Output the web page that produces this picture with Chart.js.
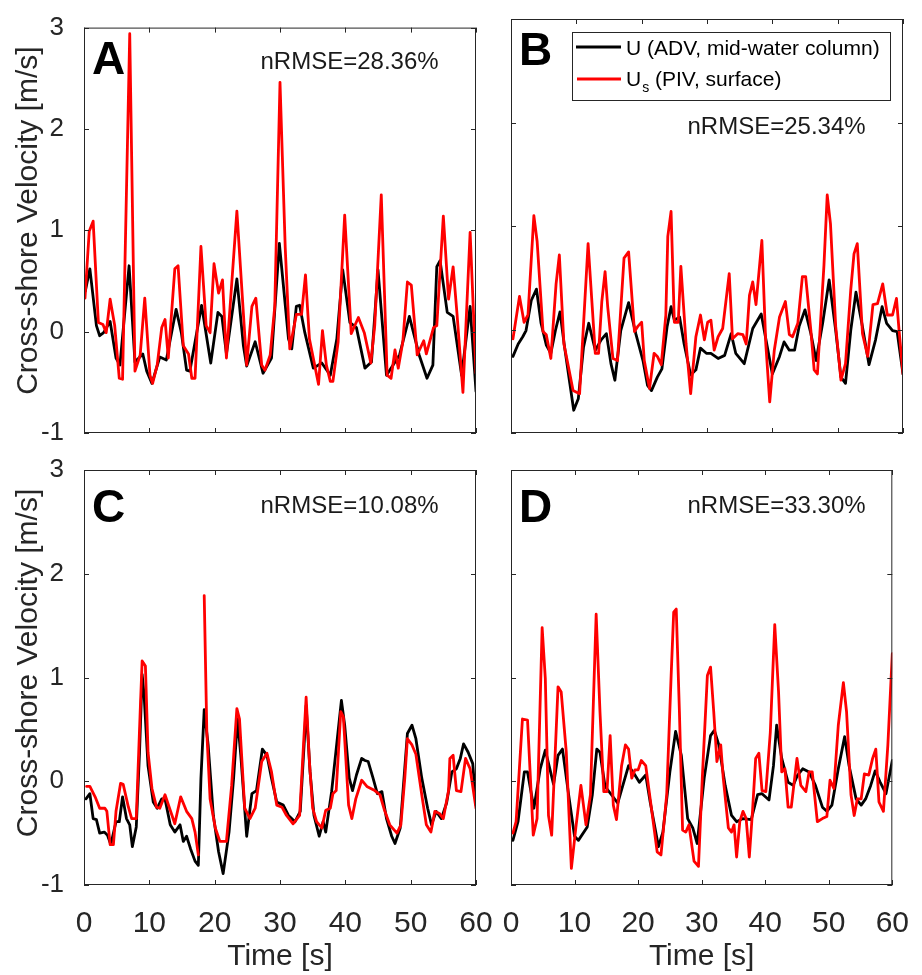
<!DOCTYPE html>
<html lang="en">
<head>
    <meta charset="UTF-8">
    <title>Cross-shore Velocity</title>
    <script src="https://cdn.jsdelivr.net/npm/chart.js"></script>
    <style>
        html, body { margin: 0; padding: 0; background: #fff; }
        #wrap { position: relative; width: 922px; height: 975px; }
        #wrap canvas { position: absolute; left: 0; top: 0; }
    </style>
</head>
<body>
    <div id="wrap">
        <canvas id="panelA" width="922" height="975"></canvas>
        <canvas id="panelB" width="922" height="975"></canvas>
        <canvas id="panelC" width="922" height="975"></canvas>
        <canvas id="panelD" width="922" height="975"></canvas>
    </div>

    <script>
        // tick values
        const xTicks = [0, 10, 20, 30, 40, 50, 60];
        const yTicks = [-1, 0, 1, 2, 3];

        // Panel A
        const tA_U = [0.2, 0.9, 1.9, 2.4, 3.0, 4.0, 4.9, 5.5, 6.9, 7.8, 9.0, 9.6, 10.4, 11.6, 12.6, 14.1, 14.9, 15.7, 16.2, 18.0, 19.4, 20.5, 21.1, 21.8, 23.4, 24.4, 24.9, 26.2, 27.4, 28.7, 29.9, 31.3, 31.8, 32.5, 33.0, 33.8, 35.1, 36.4, 37.7, 38.7, 39.6, 40.7, 41.7, 43.0, 44.0, 45.0, 46.3, 48.3, 49.8, 51.3, 52.5, 53.4, 54.0, 54.5, 55.6, 56.5, 57.8, 59.1, 60.0];
        const uA = [0.40, 0.62, 0.06, -0.04, -0.01, 0.10, -0.26, -0.33, 0.65, -0.30, -0.22, -0.39, -0.51, -0.25, -0.28, 0.22, -0.01, -0.38, -0.39, 0.26, -0.31, 0.19, 0.15, -0.22, 0.52, -0.14, -0.34, -0.10, -0.41, -0.26, 0.87, -0.07, -0.17, 0.25, 0.26, -0.01, -0.36, -0.31, -0.43, -0.07, 0.61, 0.09, 0.04, -0.36, -0.30, 0.61, -0.43, -0.23, 0.15, -0.23, -0.46, -0.33, 0.64, 0.70, 0.19, 0.15, -0.43, 0.25, -0.59];
        const tA_Us = [0.15, 0.8, 1.4, 2.2, 2.9, 3.4, 4.0, 4.7, 5.4, 5.9, 7.0, 7.3, 7.8, 8.6, 9.3, 10.1, 10.5, 11.2, 11.9, 12.4, 12.9, 13.9, 14.4, 15.2, 16.0, 16.5, 17.0, 17.9, 18.7, 19.3, 19.9, 20.6, 21.2, 21.8, 23.4, 24.9, 25.7, 26.3, 27.2, 27.7, 28.5, 29.2, 30.0, 30.8, 31.5, 32.5, 33.3, 33.9, 34.5, 35.9, 36.5, 37.1, 37.7, 38.1, 38.9, 39.9, 40.9, 42.0, 42.9, 43.9, 44.5, 45.5, 46.4, 47.0, 47.6, 48.1, 48.8, 49.5, 50.1, 51.0, 52.0, 52.4, 53.5, 54.0, 55.0, 55.8, 56.5, 57.1, 58.0, 59.1, 60.0];
        const usA = [0.33, 0.99, 1.09, 0.09, 0.07, -0.01, 0.32, 0.06, -0.46, -0.47, 2.94, 1.70, -0.39, -0.23, 0.33, -0.43, -0.51, -0.33, 0.04, 0.12, -0.26, 0.62, 0.65, -0.14, -0.22, -0.46, -0.46, 0.84, 0.06, -0.01, 0.67, 0.38, 0.51, -0.26, 1.19, -0.33, 0.25, 0.33, -0.33, -0.38, -0.23, 0.25, 2.46, 0.83, -0.17, 0.17, 0.17, 0.56, -0.07, -0.52, 0.01, -0.33, -0.49, -0.49, -0.10, 1.15, -0.02, 0.14, -0.01, -0.31, 0.06, 1.35, -0.43, -0.46, -0.18, -0.36, -0.10, 0.49, 0.46, -0.23, -0.09, -0.22, 0.04, 0.06, 1.14, 0.32, 0.64, 0.17, -0.60, 0.98, -0.41];

        // Panel B
        const tB_U = [0.3, 1.1, 1.8, 2.3, 3.1, 3.9, 4.6, 5.4, 6.1, 6.8, 7.5, 8.2, 9.0, 9.6, 10.3, 11.1, 11.9, 12.9, 13.8, 14.6, 15.3, 15.9, 16.8, 18.0, 19.1, 20.2, 20.9, 21.5, 22.4, 23.1, 23.9, 24.5, 25.0, 25.8, 26.5, 27.5, 28.3, 29.0, 29.9, 30.6, 31.7, 32.7, 33.7, 34.4, 35.7, 37.0, 38.3, 39.0, 40.0, 41.1, 41.8, 42.6, 43.4, 44.1, 45.0, 45.9, 46.7, 47.7, 48.7, 49.7, 50.5, 51.2, 52.0, 52.8, 53.7, 54.8, 55.8, 56.8, 57.5, 58.4, 59.1, 60.0];
        const uB = [-0.26, -0.14, -0.07, -0.01, 0.28, 0.39, 0.06, -0.15, -0.23, -0.01, 0.17, -0.17, -0.52, -0.78, -0.67, -0.17, 0.06, -0.20, -0.10, -0.04, -0.33, -0.49, -0.01, 0.26, -0.04, -0.30, -0.54, -0.59, -0.46, -0.38, 0.03, 0.22, 0.09, 0.12, -0.14, -0.44, -0.39, -0.18, -0.23, -0.23, -0.28, -0.25, -0.04, -0.23, -0.33, 0.01, 0.15, -0.09, -0.43, -0.26, -0.12, -0.20, -0.20, 0.03, 0.19, -0.04, -0.30, 0.06, 0.48, -0.01, -0.46, -0.52, -0.01, 0.36, 0.06, -0.34, -0.10, 0.22, 0.06, -0.01, -0.02, -0.43];
        const tB_Us = [0.3, 1.3, 2.0, 2.6, 3.5, 4.0, 4.9, 5.4, 6.1, 6.9, 7.4, 8.1, 8.7, 9.5, 10.5, 11.8, 12.9, 13.4, 13.9, 14.4, 14.8, 15.6, 16.3, 17.3, 18.0, 18.9, 19.4, 20.0, 20.4, 21.2, 21.9, 22.4, 23.0, 23.7, 24.0, 24.5, 25.0, 25.6, 26.0, 26.8, 27.5, 28.3, 29.0, 29.6, 30.1, 30.6, 31.1, 31.7, 32.4, 33.4, 33.9, 34.7, 35.5, 36.0, 36.5, 37.0, 37.5, 38.4, 39.0, 39.6, 40.3, 41.1, 42.0, 42.6, 43.1, 43.9, 44.6, 45.1, 45.9, 46.4, 46.9, 47.9, 48.4, 48.9, 49.7, 50.5, 51.2, 52.0, 52.5, 53.0, 53.8, 54.6, 55.4, 56.1, 56.9, 57.6, 58.4, 59.0, 59.4, 60.0];
        const usB = [-0.09, 0.32, 0.07, 0.14, 1.10, 0.85, -0.02, -0.05, -0.28, 0.44, 0.72, -0.14, -0.33, -0.59, -0.62, 0.83, -0.23, -0.23, 0.27, 0.56, 0.22, -0.28, -0.30, 0.69, 0.75, -0.02, 0.03, 0.07, -0.30, -0.57, -0.23, -0.26, -0.34, 0.14, 0.90, 1.14, 0.07, 0.07, 0.61, -0.14, -0.62, -0.07, 0.14, -0.10, 0.07, 0.09, -0.20, -0.07, 0.01, 0.54, -0.09, -0.04, -0.05, -0.14, 0.33, 0.46, 0.24, 0.86, -0.14, -0.70, -0.20, 0.12, 0.27, -0.05, -0.07, 0.06, 0.51, 0.51, -0.01, -0.39, -0.43, 0.62, 1.30, 1.02, 0.03, -0.49, -0.33, 0.38, 0.73, 0.83, -0.04, -0.26, 0.24, 0.25, 0.44, 0.14, 0.14, 0.30, -0.01, -0.43];

        // Panel C (null = gap in the PIV record)
        const tC_U = [0.3, 0.9, 1.4, 1.9, 2.4, 3.1, 3.6, 4.1, 4.9, 5.4, 5.9, 6.5, 7.0, 7.4, 8.0, 8.5, 8.9, 9.2, 9.8, 10.6, 11.2, 11.9, 12.4, 13.2, 13.9, 14.7, 15.2, 15.7, 16.3, 17.0, 17.5, 17.9, 18.4, 19.0, 19.8, 20.6, 21.3, 22.2, 22.9, 23.5, 24.0, 24.9, 25.7, 26.4, 27.3, 28.0, 28.7, 29.5, 30.5, 31.3, 32.3, 33.1, 33.8, 34.0, 34.6, 35.2, 36.0, 36.6, 37.0, 37.9, 39.4, 39.9, 40.6, 41.1, 41.7, 42.5, 43.0, 43.5, 44.2, 44.9, 45.6, 46.3, 47.1, 47.6, 48.4, 49.5, 50.2, 50.8, 51.7, 52.6, 53.2, 53.9, 54.7, 55.5, 56.3, 57.0, 57.6, 58.1, 58.8, 59.5, 60.0];
        const uC = [-0.17, -0.12, -0.36, -0.37, -0.50, -0.49, -0.52, -0.61, -0.39, -0.39, -0.15, -0.36, -0.42, -0.63, -0.44, 0.28, 1.03, 0.83, 0.15, -0.20, -0.26, -0.17, -0.17, -0.42, -0.49, -0.42, -0.58, -0.53, -0.65, -0.77, -0.81, 0.03, 0.69, 0.35, -0.33, -0.68, -0.89, -0.49, 0.03, 0.60, 0.25, -0.53, -0.12, -0.09, 0.31, 0.25, 0.03, -0.20, -0.23, -0.33, -0.39, -0.29, 0.47, 0.73, 0.09, -0.33, -0.53, -0.39, -0.49, -0.10, 0.78, 0.54, 0.03, -0.09, 0.06, 0.22, 0.20, 0.19, 0.04, -0.12, -0.10, -0.36, -0.53, -0.60, -0.45, 0.46, 0.54, 0.41, 0.03, -0.26, -0.42, -0.29, -0.36, -0.21, 0.09, 0.12, 0.22, 0.36, 0.28, 0.17, -0.23];
        const tC_Us = [0.4, 0.9, 1.7, 2.4, 3.2, 3.5, 4.0, 4.5, 4.9, 5.6, 6.0, 6.8, 7.3, 8.0, 8.6, 8.9, 9.4, 9.8, 10.4, 11.1, 11.6, 12.4, 13.2, 13.9, 14.8, 15.7, 16.5, 17.0, 17.5, 17.9, 18.4, 18.8, 19.3, 20.1, 20.8, 21.8, 22.6, 23.4, 23.8, 24.6, 25.4, 26.2, 27.2, 28.0, 28.7, 29.5, 30.3, 31.0, 32.0, 33.0, 33.6, 34.0, 34.5, 35.0, 35.6, 36.4, 37.0, 37.7, 38.1, 38.6, 39.3, 39.7, 40.5, 41.0, 41.6, 42.5, 43.3, 44.5, 45.3, 46.0, 46.8, 47.9, 48.5, 49.1, 49.5, 50.2, 50.8, 51.7, 52.4, 53.1, 53.7, 54.4, 55.0, 55.8, 56.0, 56.5, 57.0, 57.7, 58.4, 59.1, 60.0];
        const usC = [-0.05, -0.05, -0.15, -0.26, -0.26, -0.29, -0.61, -0.61, -0.29, -0.02, -0.03, -0.25, -0.36, -0.36, 0.67, 1.16, 1.11, 0.28, -0.07, -0.25, -0.26, -0.13, -0.28, -0.41, -0.15, -0.29, -0.36, -0.49, -0.71, null, 1.79, 0.47, -0.17, -0.45, -0.58, -0.58, -0.04, 0.70, 0.60, -0.26, -0.36, -0.26, 0.19, 0.27, 0.09, -0.23, -0.25, -0.33, -0.41, -0.33, 0.35, 0.81, 0.19, -0.26, -0.39, -0.45, -0.28, -0.26, -0.12, -0.09, 0.67, 0.62, -0.23, -0.36, -0.17, 0.01, -0.05, -0.09, -0.13, -0.28, -0.42, -0.50, -0.42, 0.03, 0.41, 0.35, 0.26, -0.13, -0.42, -0.49, -0.29, -0.31, -0.36, -0.09, 0.22, 0.25, -0.09, -0.10, 0.22, 0.12, -0.26];

        // Panel D
        const tD_U = [0.3, 1.1, 2.1, 2.6, 3.6, 4.6, 5.4, 6.7, 7.4, 8.1, 9.0, 10.0, 10.6, 12.0, 12.8, 13.5, 14.0, 14.8, 15.8, 16.8, 17.6, 18.5, 19.4, 20.2, 21.2, 21.9, 23.2, 23.9, 25.0, 25.9, 26.8, 27.8, 28.6, 29.3, 30.4, 31.4, 32.0, 32.7, 33.7, 34.7, 35.5, 36.5, 37.8, 38.8, 39.5, 40.6, 41.3, 41.8, 42.6, 43.6, 44.4, 45.1, 45.9, 46.9, 47.9, 49.0, 49.7, 50.5, 51.5, 52.5, 53.2, 54.3, 55.1, 55.8, 56.6, 57.3, 58.1, 59.0, 60.0];
        const uD = [-0.57, -0.39, 0.09, 0.09, -0.26, 0.12, 0.30, -0.03, 0.25, 0.31, -0.10, -0.53, -0.57, -0.44, -0.13, 0.31, 0.28, -0.05, -0.13, -0.21, -0.04, 0.15, 0.07, -0.01, 0.06, -0.20, -0.63, -0.49, 0.09, 0.48, 0.25, -0.36, -0.45, -0.60, 0.03, 0.44, 0.49, 0.35, -0.04, -0.33, -0.39, -0.36, -0.37, -0.13, -0.12, -0.18, 0.15, 0.54, 0.22, -0.01, -0.04, 0.06, 0.12, 0.09, -0.04, -0.25, -0.29, -0.23, 0.12, 0.43, 0.15, -0.17, -0.23, -0.17, -0.04, 0.10, -0.01, -0.12, 0.20];
        const tD_Us = [0.3, 0.8, 1.8, 2.6, 3.5, 4.1, 4.9, 5.4, 5.9, 6.4, 7.4, 7.9, 8.7, 9.5, 10.2, 11.0, 11.8, 12.5, 13.4, 14.0, 14.6, 15.1, 15.6, 16.1, 16.6, 17.4, 18.0, 18.5, 19.0, 19.5, 20.0, 20.5, 21.2, 21.9, 23.0, 23.6, 24.5, 25.2, 25.6, 26.0, 26.5, 27.0, 27.5, 28.0, 28.8, 29.5, 30.1, 30.9, 31.4, 31.9, 32.4, 33.0, 33.4, 34.2, 34.7, 35.1, 35.5, 36.0, 36.5, 37.0, 37.5, 38.0, 38.5, 39.0, 39.5, 40.1, 40.8, 41.5, 42.1, 42.6, 43.1, 43.6, 44.1, 45.0, 45.6, 46.4, 46.9, 47.4, 48.2, 49.0, 49.7, 50.2, 50.8, 51.5, 52.3, 52.8, 53.5, 54.0, 54.5, 55.1, 55.6, 56.3, 56.9, 57.4, 57.9, 58.6, 59.3, 60.0];
        const usD = [-0.50, -0.39, 0.60, 0.59, -0.52, -0.36, 1.48, 0.99, -0.33, -0.52, 0.91, 0.86, 0.28, -0.84, -0.45, -0.04, -0.42, -0.13, 1.61, 0.67, -0.10, -0.10, 0.44, -0.23, -0.37, 0.15, 0.35, 0.31, 0.03, 0.11, 0.11, 0.20, 0.15, -0.17, -0.68, -0.71, -0.13, 1.02, 1.63, 1.66, 0.67, -0.47, -0.49, -0.42, -0.77, -0.82, 0.03, 1.02, 1.10, 0.67, 0.19, 0.35, 0.03, -0.45, -0.49, -0.42, -0.73, -0.39, -0.29, -0.36, -0.73, -0.29, 0.22, 0.27, -0.09, -0.10, 0.47, 1.51, 0.86, 0.09, 0.12, -0.25, -0.25, 0.22, -0.04, -0.10, 0.09, 0.09, -0.39, -0.36, -0.34, 0.01, -0.07, 0.54, 0.95, 0.67, -0.13, -0.33, -0.17, -0.17, 0.07, 0.06, 0.22, 0.31, -0.20, -0.29, 0.35, 1.23];

        const FONT = "'Liberation Sans', Arial, Helvetica, sans-serif";
        const AXIS = '#262626';
        const TICK_LEN = 5;

        Chart.defaults.font.family = FONT;
        Chart.defaults.color = AXIS;

        // box, inward ticks, panel letter, nRMSE text, legend and y title
        const decor = {
            id: 'decor',
            afterDraw(chart, args, o) {
                const { ctx, chartArea: a, scales: { x, y } } = chart;
                ctx.save();
                ctx.strokeStyle = AXIS;
                ctx.lineWidth = 1;
                ctx.strokeRect(a.left + 0.5, a.top + 0.5, a.right - a.left - 1, a.bottom - a.top - 1);
                ctx.beginPath();
                xTicks.forEach(v => {
                    const px = Math.round(x.getPixelForValue(v)) + 0.5;
                    ctx.moveTo(px, a.bottom); ctx.lineTo(px, a.bottom - TICK_LEN);
                    ctx.moveTo(px, a.top); ctx.lineTo(px, a.top + TICK_LEN);
                });
                yTicks.forEach(v => {
                    const py = Math.round(y.getPixelForValue(v)) + 0.5;
                    ctx.moveTo(a.left, py); ctx.lineTo(a.left + TICK_LEN, py);
                    ctx.moveTo(a.right, py); ctx.lineTo(a.right - TICK_LEN, py);
                });
                ctx.stroke();

                ctx.fillStyle = '#000';
                ctx.textBaseline = 'alphabetic';
                ctx.textAlign = 'left';
                ctx.font = 'bold 46px ' + FONT;
                ctx.fillText(o.letter, a.left + 8, a.top + o.letterDy);

                ctx.font = '24px ' + FONT;
                ctx.fillStyle = '#1a1a1a';
                ctx.fillText(o.nrmse, a.left + 176.5, a.top + o.nrmseDy);

                if (o.legend) {
                    const lx = a.left + 61, ly = a.top + 13;
                    ctx.fillStyle = '#fff';
                    ctx.fillRect(lx, ly, 319, 68);
                    ctx.strokeStyle = AXIS;
                    ctx.lineWidth = 1;
                    ctx.strokeRect(lx + 0.5, ly + 0.5, 318, 68);
                    ctx.lineWidth = 3;
                    ctx.strokeStyle = '#000';
                    ctx.beginPath(); ctx.moveTo(lx + 4, ly + 15); ctx.lineTo(lx + 49, ly + 15); ctx.stroke();
                    ctx.strokeStyle = '#ff0000';
                    ctx.beginPath(); ctx.moveTo(lx + 5, ly + 47); ctx.lineTo(lx + 49, ly + 47); ctx.stroke();
                    ctx.fillStyle = '#000';
                    ctx.font = '21px ' + FONT;
                    ctx.fillText('U (ADV, mid-water column)', lx + 54, ly + 23);
                    let tx = lx + 54;
                    ctx.fillText('U', tx, ly + 54);
                    tx += ctx.measureText('U').width;
                    ctx.font = '14px ' + FONT;
                    ctx.fillText('s', tx + 1, ly + 60);
                    tx += ctx.measureText('s').width + 1;
                    ctx.font = '21px ' + FONT;
                    ctx.fillText(' (PIV, surface)', tx, ly + 54);
                }

                if (o.yTitle) {
                    ctx.translate(36.5, a.top + 193);
                    ctx.rotate(-Math.PI / 2);
                    ctx.textAlign = 'center';
                    ctx.fillStyle = AXIS;
                    ctx.font = '30px ' + FONT;
                    ctx.fillText('Cross-shore Velocity [m/s]', 0, 0);
                }
                ctx.restore();
            }
        };

        function toPoints(t, v) {
            return t.map((ti, i) => ({ x: ti, y: v[i] }));
        }

        function makePanel(id, p) {
            new Chart(document.getElementById(id), {
                type: 'line',
                data: {
                    datasets: [
                        { label: 'U (ADV, mid-water column)', data: toPoints(p.tU, p.u), borderColor: '#000000', order: 1 },
                        { label: 'Us (PIV, surface)', data: toPoints(p.tUs, p.us), borderColor: '#ff0000', order: 0 }
                    ]
                },
                options: {
                    responsive: false,
                    animation: false,
                    events: [],
                    layout: { padding: p.padding },
                    elements: {
                        point: { radius: 0 },
                        line: { borderWidth: 2.8, tension: 0, borderJoinStyle: 'round', borderCapStyle: 'round' }
                    },
                    plugins: {
                        legend: { display: false },
                        tooltip: { enabled: false },
                        decor: { letter: p.letter, letterDy: p.letterDy, nrmse: p.nrmse, nrmseDy: p.nrmseDy, legend: p.legend, yTitle: p.leftAxis }
                    },
                    scales: {
                        x: {
                            type: 'linear',
                            min: 0, max: 60,
                            display: p.bottomAxis,
                            afterBuildTicks: s => { s.ticks = xTicks.map(v => ({ value: v })); },
                            afterFit: s => { s.height = p.bottomAxis ? 90 : 0; },
                            grid: { display: false },
                            border: { display: false },
                            ticks: { font: { size: 30 }, color: AXIS, padding: 13, maxRotation: 0, autoSkip: false },
                            title: { display: true, text: 'Time [s]', font: { size: 30 }, color: AXIS, padding: { top: 0, bottom: 0 } }
                        },
                        y: {
                            type: 'linear',
                            min: -1, max: 3,
                            display: p.leftAxis,
                            afterBuildTicks: s => { s.ticks = yTicks.map(v => ({ value: v })); },
                            afterFit: s => { s.width = p.leftAxis ? 84 : 0; },
                            grid: { display: false },
                            border: { display: false },
                            ticks: { font: { size: 26 }, color: AXIS, padding: 12 }
                        }
                    }
                },
                plugins: [decor]
            });
        }

        makePanel('panelA', {
            tU: tA_U, u: uA, tUs: tA_Us, us: usA,
            letter: 'A', letterDy: 46, nrmse: 'nRMSE=28.36%', nrmseDy: 41,
            leftAxis: true, bottomAxis: false, legend: false,
            padding: { left: 0, top: 19, right: 446, bottom: 542 }
        });
        makePanel('panelB', {
            tU: tB_U, u: uB, tUs: tB_Us, us: usB,
            letter: 'B', letterDy: 46, nrmse: 'nRMSE=25.34%', nrmseDy: 115,
            leftAxis: false, bottomAxis: false, legend: true,
            padding: { left: 511, top: 19, right: 19, bottom: 542 }
        });
        makePanel('panelC', {
            tU: tC_U, u: uC, tUs: tC_Us, us: usC,
            letter: 'C', letterDy: 52, nrmse: 'nRMSE=10.08%', nrmseDy: 43,
            leftAxis: true, bottomAxis: true, legend: false,
            padding: { left: 0, top: 470, right: 446, bottom: 0 }
        });
        makePanel('panelD', {
            tU: tD_U, u: uD, tUs: tD_Us, us: usD,
            letter: 'D', letterDy: 52, nrmse: 'nRMSE=33.30%', nrmseDy: 43,
            leftAxis: false, bottomAxis: true, legend: false,
            padding: { left: 511, top: 470, right: 19, bottom: 0 }
        });
    </script>
</body>
</html>
